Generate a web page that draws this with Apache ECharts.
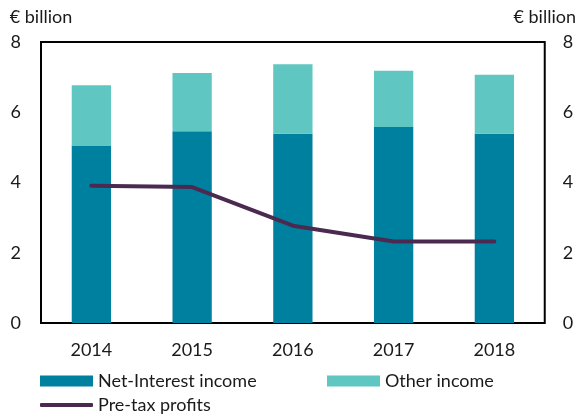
<!DOCTYPE html>
<html>
<head>
<meta charset="utf-8">
<script src="https://cdn.jsdelivr.net/npm/echarts@6/dist/echarts.min.js"></script>
<style>
    html, body { margin: 0; padding: 0; background: #fff; }
    #chart { width: 579px; height: 417px; }
</style>
</head>
<body>
<div id="chart"></div>
<script>
    // 数据
    const years = ['2014', '2015', '2016', '2017', '2018'];
    const netInterest = [5.04, 5.46, 5.39, 5.58, 5.39];
    const otherIncome = [1.73, 1.66, 1.98, 1.60, 1.68];
    const preTax = [3.91, 3.87, 2.77, 2.32, 2.32];

    const font = 'Lato, "Noto Sans", sans-serif';
    const txt = { color: '#1a1a1a', fontSize: 18, fontFamily: font };

    let myChart = echarts.init(document.getElementById('chart'));

    const yAxisBase = {
        type: 'value',
        min: 0,
        max: 8,
        interval: 2,
        name: '€ billion',
        nameLocation: 'end',
        nameGap: 16,
        nameTextStyle: txt,
        axisLine: { show: false },
        axisTick: { show: false },
        splitLine: { show: false },
        axisLabel: Object.assign({ margin: 20 }, txt)
    };

    myChart.setOption({
        animation: false,
        //网格位置
        grid: {
            left: 41,
            right: 31,
            top: 42,
            bottom: 94,
            show: true,
            borderColor: '#000',
            borderWidth: 2
        },
        legend: [
            {
                left: 40, top: 372, padding: 0,
                itemWidth: 53, itemHeight: 11,
                icon: 'rect',
                itemGap: 0,
                textStyle: txt,
                data: ['Net-Interest income']
            },
            {
                left: 327, top: 372, padding: 0,
                itemWidth: 53, itemHeight: 11,
                icon: 'rect',
                textStyle: txt,
                data: ['Other income']
            },
            {
                left: 40, top: 396, padding: 0,
                itemWidth: 53, itemHeight: 4,
                icon: 'roundRect',
                textStyle: txt,
                data: ['Pre-tax profits']
            }
        ],
        xAxis: {
            type: 'category',
            data: years,
            axisLine: { show: false },
            axisTick: { show: false },
            axisLabel: Object.assign({ margin: 18 }, txt)
        },
        yAxis: [
            Object.assign({}, yAxisBase, { position: 'left' }),
            Object.assign({}, yAxisBase, { position: 'right', axisLabel: Object.assign({ margin: 18 }, txt) })
        ],
        series: [
            {
                name: 'Net-Interest income',
                type: 'bar',
                stack: 'income',
                barWidth: '39%',
                itemStyle: { color: '#00809f' },
                data: netInterest
            },
            {
                name: 'Other income',
                type: 'bar',
                stack: 'income',
                itemStyle: { color: '#5fc6c1' },
                data: otherIncome
            },
            {
                name: 'Pre-tax profits',
                type: 'line',
                symbol: 'none',
                lineStyle: { color: '#4b2a50', width: 4, cap: 'round' },
                itemStyle: { color: '#4b2a50' },
                data: preTax
            }
        ]
    });
</script>
</body>
</html>
